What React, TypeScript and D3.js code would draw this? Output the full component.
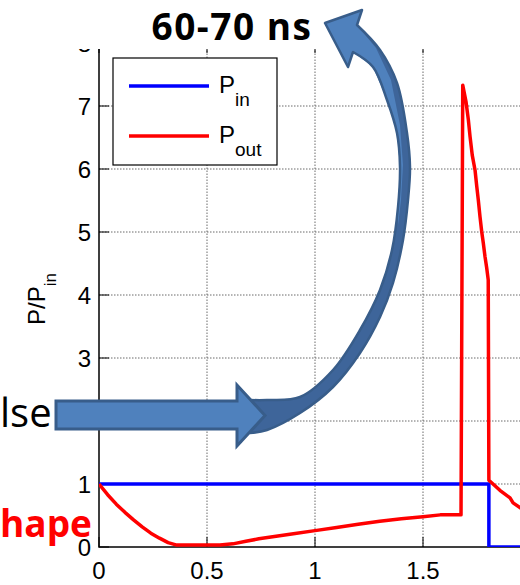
import React from 'react';
import * as d3 from 'd3';

// P_in : square input pulse
const timeIn = [0, 1.805, 1.805, 2.0];
const powerIn = [1, 1, 0, 0];

// P_out : reshaped output pulse
const timeOut = [
  0, 0.04, 0.08, 0.12, 0.16, 0.2, 0.24, 0.28, 0.32, 0.36,
  0.4, 0.5, 0.56, 0.62, 0.68, 0.74, 0.82, 0.9, 1.0, 1.1,
  1.2, 1.3, 1.4, 1.5, 1.58, 1.676, 1.684, 1.699, 1.71, 1.718,
  1.728, 1.741, 1.749, 1.756, 1.764, 1.772, 1.779, 1.787, 1.795, 1.802,
  1.805, 1.856, 1.903, 1.917, 1.96,
];
const powerOut = [
  1.0, 0.83, 0.68, 0.55, 0.43, 0.32, 0.22, 0.14, 0.07, 0.03,
  0.03, 0.03, 0.03, 0.05, 0.09, 0.13, 0.17, 0.21, 0.26, 0.31,
  0.36, 0.41, 0.45, 0.48, 0.51, 0.51, 7.33, 7.07, 6.78, 6.51,
  6.22, 5.98, 5.72, 5.51, 5.24, 5.0, 4.83, 4.61, 4.43, 4.24,
  1.06, 0.9, 0.78, 0.7, 0.6,
];

const xTicks = [0, 0.5, 1, 1.5, 2];
const xTickLabels = ['0', '0.5', '1', '1.5', '2'];
const yTicks = [0, 1, 2, 3, 4, 5, 6, 7, 8];

const legendNames = ['P', 'P'];
const legendSubs = ['in', 'out'];
const seriesColors = ['#0000ff', '#ff0000'];

const W = 520;
const H = 585;
const FONT = '"Liberation Sans", Arial, sans-serif';
const SLIDE_FONT = '"Open Sans", "Liberation Sans", sans-serif';

// annotation arrows (slide overlay, pixel space)
const curvedInner: [number, number][] = [
  [250, 400], [267, 400], [300, 397], [333, 370], [360, 330], [380, 290],
  [392, 250], [398, 207], [400, 167], [397, 133], [387, 100], [373, 67], [353, 52],
];
const curvedHead: [number, number][] = [[348, 67], [325, 23], [362, 10], [357, 25]];
const curvedOuter: [number, number][] = [
  [357, 25], [380, 50], [397, 83], [407, 133], [410, 167], [408, 200],
  [403, 240], [393, 283], [380, 317], [360, 353], [333, 387], [300, 413],
  [267, 430], [250, 433],
];
const lightFace: [number, number][] = [
  [353, 52], [348, 67], [325, 23], [362, 10], [357, 25], [376, 48],
  [391, 80], [400, 125], [403, 165], [401, 200], [398, 225],
  [398, 207], [400, 167], [397, 133], [387, 100], [373, 67],
];
const straightArrow: [number, number][] = [
  [56, 401], [237, 401], [237, 385], [265, 415.5], [237, 446], [237, 429], [56, 429],
];

export default function App() {
  const margin = { left: 99, top: 43, right: W - 531, bottom: H - 547 };
  const x = d3.scaleLinear().domain([0, 2]).range([margin.left, W - margin.right]);
  const y = d3.scaleLinear().domain([0, 8]).range([H - margin.bottom, margin.top]);

  const line = d3
    .line<[number, number]>()
    .x((d) => x(d[0]))
    .y((d) => y(d[1]));

  const inPath = line(timeIn.map((t, i) => [t, powerIn[i]]));
  const outPath = line(timeOut.map((t, i) => [t, powerOut[i]]));

  const x0 = x(0);
  const x1 = x(2);
  const y0 = y(0);
  const y1 = y(8);

  const smooth = d3.line().curve(d3.curveCatmullRom.alpha(0.5));
  const poly = d3.line();
  const curvedPath =
    smooth(curvedInner) +
    poly(curvedHead)!.replace(/^M/, 'L') +
    smooth(curvedOuter)!.replace(/^M/, 'L') +
    'Z';
  const facePath = poly(lightFace) + 'Z';
  const straightPath = poly(straightArrow) + 'Z';

  const tickLen = 10;

  return (
    <svg
      width={W}
      height={H}
      style={{ position: 'absolute', left: 0, top: 0, background: '#fff' }}
      fontFamily={FONT}
    >
      <defs>
        <clipPath id="plot">
          <rect x={x0} y={y1} width={x1 - x0} height={y0 - y1} />
        </clipPath>
      </defs>

      {/* grid */}
      <g stroke="#6a6a6a" strokeWidth={1} strokeDasharray="1.5,1.5">
        {xTicks.slice(1, -1).map((t) => (
          <line key={'gx' + t} x1={x(t)} x2={x(t)} y1={y0} y2={y1} />
        ))}
        {yTicks.slice(1, -1).map((t) => (
          <line key={'gy' + t} x1={x0} x2={x1} y1={y(t)} y2={y(t)} />
        ))}
      </g>

      {/* axes box and ticks */}
      <g stroke="#000" strokeWidth={1}>
        <rect x={x0} y={y1} width={x1 - x0} height={y0 - y1} fill="none" strokeWidth={1.5} />
        {xTicks.map((t) => (
          <g key={'tx' + t}>
            <line x1={x(t)} x2={x(t)} y1={y0} y2={y0 - tickLen} />
            <line x1={x(t)} x2={x(t)} y1={y1} y2={y1 + tickLen} />
          </g>
        ))}
        {yTicks.map((t) => (
          <g key={'ty' + t}>
            <line x1={x0} x2={x0 + tickLen} y1={y(t)} y2={y(t)} />
            <line x1={x1} x2={x1 - tickLen} y1={y(t)} y2={y(t)} />
          </g>
        ))}
      </g>

      {/* tick labels (the one at x = 2 lies outside the cropped view) */}
      <g fontSize={24} fill="#000">
        {xTicks
          .filter((t) => x(t) + 8 < W)
          .map((t, i) => (
            <text key={'lx' + t} x={x(t)} y={579} textAnchor="middle">
              {xTickLabels[i]}
            </text>
          ))}
        {yTicks.map((t) => (
          <text key={'ly' + t} x={91} y={y(t) + 8.6} textAnchor="end">
            {t}
          </text>
        ))}
      </g>

      {/* y label */}
      <text transform="translate(45,325) rotate(-90)" fontSize={24} fill="#000">
        P/P
        <tspan dy={11} fontSize={17}>
          in
        </tspan>
      </text>

      {/* series */}
      <g clipPath="url(#plot)" fill="none" strokeWidth={3.5} strokeLinejoin="round">
        <path d={inPath!} stroke={seriesColors[0]} />
        <path d={outPath!} stroke={seriesColors[1]} />
      </g>

      {/* legend */}
      <rect x={113} y={58} width={164} height={107} fill="#fff" stroke="#000" strokeWidth={1.2} />
      {legendNames.map((name, i) => (
        <g key={'leg' + i}>
          <line x1={129} x2={209} y1={86 + i * 50} y2={86 + i * 50} stroke={seriesColors[i]} strokeWidth={3.5} />
          <text x={219} y={93 + i * 50} fontSize={24} fill="#000">
            {name}
            <tspan dy={13} fontSize={19}>
              {legendSubs[i]}
            </tspan>
          </text>
        </g>
      ))}

      {/* slide overlay */}
      <rect x={0} y={0} width={W} height={49} fill="#fff" />
      <text
        x={232}
        y={40}
        textAnchor="middle"
        fontFamily={SLIDE_FONT}
        fontWeight={700}
        fontSize={37}
        letterSpacing={1.5}
        fill="#000"
      >
        60-70 ns
      </text>

      <path d={curvedPath} fill="#3e659a" />
      <path d={facePath} fill="#4f81bd" />
      <path d={curvedPath} fill="none" stroke="#385d8a" strokeWidth={2.5} strokeLinejoin="round" />
      <path d={straightPath} fill="#4f81bd" stroke="#385d8a" strokeWidth={3} strokeLinejoin="miter" />

      <text x={0} y={427} fontFamily={SLIDE_FONT} fontSize={40} fill="#000">
        lse
      </text>
      <text x={0} y={537} fontFamily={SLIDE_FONT} fontWeight={700} fontSize={37} fill="#ff0000">
        hape
      </text>
    </svg>
  );
}
